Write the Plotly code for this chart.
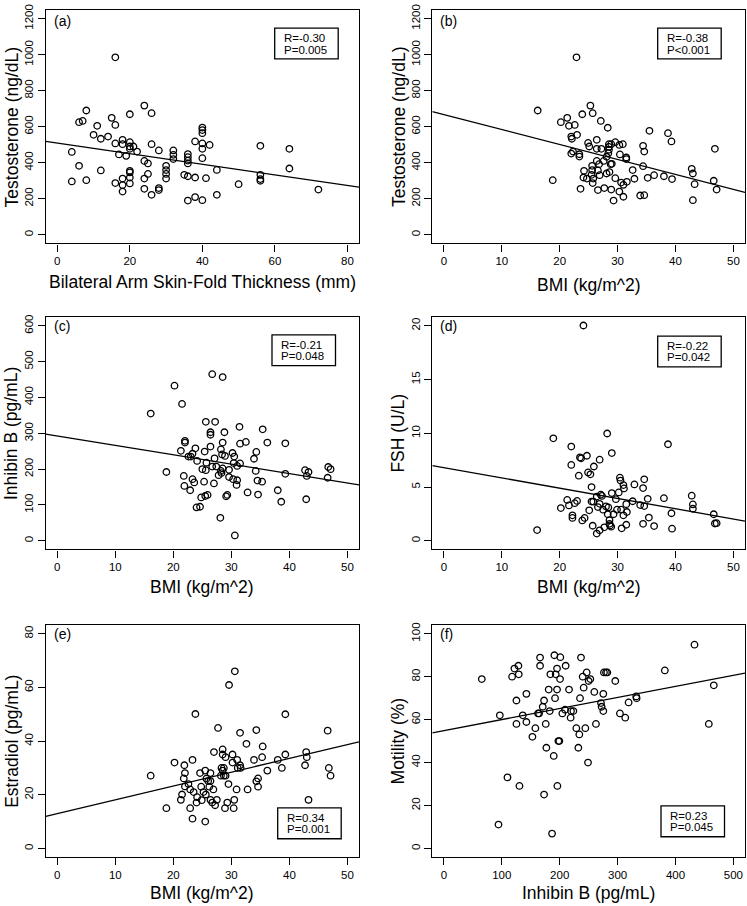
import plotly.graph_objects as go
import numpy as np

W, H = 747, 906
FONT = "Liberation Sans, Arial, Helvetica, sans-serif"

# ---------------- data ----------------
# (a) Testosterone vs bilateral arm skin-fold thickness
a_skinfold = [16, 24, 26, 20, 8, 6, 7, 15, 16, 11, 10, 12, 14, 16, 18, 18, 20, 20, 20, 21,
              22, 17, 19, 26, 28, 24, 25, 4, 6, 4, 8, 12, 16, 18, 18, 18, 20, 20, 20, 20,
              25, 24, 24, 26, 28, 28, 30, 30, 30, 30, 32, 32, 32, 36, 36, 36, 36, 35, 36, 36,
              38, 38, 38, 40, 40, 40, 40, 40, 40, 40, 42, 41, 44, 44, 50, 56, 56, 56, 56, 64,
              64, 72]
a_testosterone = [985, 717, 675, 669, 690, 625, 632, 649, 610, 605, 555, 533, 545, 507, 527, 503, 514, 490, 477, 490,
                  462, 446, 438, 503, 468, 410, 396, 460, 383, 296, 303, 357, 287, 312, 276, 240, 355, 346, 318, 285,
                  338, 312, 255, 222, 259, 248, 383, 359, 338, 312, 468, 444, 420, 448, 431, 412, 396, 333, 325, 190,
                  518, 318, 209, 595, 581, 564, 507, 477, 425, 192, 499, 314, 360, 222, 281, 494, 333, 309, 300, 477,
                  368, 251]

# (b) Testosterone vs BMI
b_bmi = [22.9, 25.3, 25.7, 23.9, 16.2, 27.1, 20.2, 21.3, 22.6, 21.6, 28.3, 23.0, 22.0, 22.1, 24.9, 25.1, 26.4, 26.4, 27.2, 22.0,
         22.3, 23.4, 23.4, 29.6, 28.5, 28.9, 30.3, 30.9, 28.5, 28.5, 28.4, 28.1, 30.4, 26.4, 26.8, 27.6, 28.8, 29.0, 31.5, 31.5,
         34.4, 34.6, 35.5, 38.7, 39.3, 46.8, 34.4, 32.6, 25.6, 24.2, 25.6, 26.6, 24.1, 24.7, 25.5, 25.8, 25.7, 26.9, 28.1, 28.6,
         29.6, 30.6, 31.0, 31.6, 30.3, 31.0, 32.9, 35.2, 36.3, 38.0, 39.4, 18.8, 23.6, 26.6, 27.7, 28.9, 29.3, 33.9, 34.6, 42.8,
         43.0, 43.3, 43.0, 46.6, 47.1]
b_testosterone = [985, 717, 675, 669, 690, 632, 625, 649, 610, 605, 594, 555, 545, 533, 510, 490, 527, 477, 477, 451,
                  462, 447, 434, 514, 503, 503, 499, 503, 488, 472, 453, 433, 446, 410, 392, 410, 392, 394, 429, 420,
                  494, 462, 577, 564, 518, 477, 381, 359, 383, 355, 359, 357, 318, 312, 333, 312, 287, 331, 340, 348,
                  314, 290, 277, 294, 240, 211, 311, 316, 331, 325, 309, 303, 255, 248, 259, 251, 190, 218, 220, 366,
                  340, 281, 192, 300, 251]

# (c) Inhibin B vs BMI
c_bmi = [16.1, 20.2, 21.5, 26.7, 28.5, 18.8, 21.3, 22.0, 22.0, 21.8, 21.9, 22.6, 23.0, 23.3, 23.8, 24.1, 22.9, 23.3, 23.6, 24.0,
         24.6, 24.8, 25.5, 25.9, 25.3, 25.0, 25.6, 25.4, 25.6, 27.2, 26.4, 26.4, 26.4, 25.7, 27.1, 26.7, 27.4, 27.8, 27.0, 28.2,
         28.4, 28.5, 28.8, 28.9, 28.2, 28.5, 28.3, 29.6, 29.1, 29.3, 28.1, 30.2, 30.5, 30.4, 29.6, 30.3, 31.0, 30.9, 31.0, 31.5,
         31.4, 31.5, 32.5, 30.6, 32.8, 33.9, 34.3, 34.2, 34.5, 34.6, 35.3, 35.4, 36.2, 38.0, 38.6, 39.3, 39.3, 42.7, 43.0, 43.3,
         42.9, 46.7, 47.1, 46.6]
c_inhibin = [355, 433, 382, 465, 457, 192, 251, 279, 274, 181, 153, 235, 235, 243, 258, 223, 141, 172, 163, 93,
             95, 121, 125, 128, 165, 200, 197, 249, 332, 332, 303, 296, 263, 218, 230, 207, 207, 183, 160, 255,
             241, 274, 303, 237, 195, 202, 189, 198, 124, 128, 64, 245, 235, 217, 178, 172, 169, 156, 209, 216,
             318, 271, 276, 15, 135, 229, 248, 195, 168, 129, 165, 311, 274, 141, 109, 272, 187, 197, 181, 192,
             116, 206, 200, 176]

# (d) FSH vs BMI
d_bmi = [24.1, 16.1, 18.9, 20.2, 21.3, 21.6, 22.0, 22.0, 22.2, 22.2, 22.6, 23.0, 23.3, 23.5, 23.7, 24.7, 23.9, 24.3, 24.9, 25.3,
         25.9, 25.1, 25.5, 25.8, 25.5, 25.7, 26.4, 26.6, 26.9, 27.1, 27.3, 26.9, 26.4, 26.9, 27.7, 28.2, 28.0, 28.4, 28.3, 28.6,
         28.6, 28.7, 28.9, 29.0, 29.0, 29.3, 29.7, 29.9, 27.5, 30.2, 30.4, 30.5, 30.6, 30.7, 31.0, 31.1, 31.0, 31.5, 31.6, 31.5,
         32.6, 32.9, 33.9, 34.4, 34.6, 34.6, 34.4, 35.2, 35.4, 36.3, 38.0, 38.7, 39.3, 39.4, 42.8, 43.0, 43.0, 46.6, 46.8, 47.1]
d_fsh = [20.03, 1.0, 9.53, 3.04, 3.8, 3.29, 8.77, 7.06, 2.37, 2.13, 3.5, 3.71, 6.06, 7.76, 7.67, 7.91, 1.89, 2.13, 6.36, 6.18,
         6.91, 2.83, 3.65, 3.65, 5.0, 1.40, 4.11, 3.14, 7.55, 4.29, 4.17, 3.44, 0.67, 0.97, 1.25, 9.98, 3.2, 3.1, 2.47, 1.92,
         1.58, 1.43, 1.31, 4.44, 8.16, 2.47, 3.87, 2.89, 2.89, 4.5, 5.87, 5.6, 2.89, 1.16, 5.18, 4.87, 2.37, 3.41, 2.68, 1.49,
         3.68, 5.24, 3.32, 4.90, 5.72, 3.23, 1.58, 3.9, 2.16, 1.37, 3.96, 8.98, 2.56, 1.13, 4.2, 3.38, 2.98, 2.47, 1.61, 1.64]

# (e) Estradiol vs BMI
e_bmi = [16.1, 18.8, 20.2, 21.5, 21.3, 21.9, 22.0, 21.8, 22.0, 22.6, 22.9, 22.9, 23.3, 23.3, 23.5, 23.8, 24.1, 24.0, 24.6, 24.8,
         24.9, 25.2, 25.5, 25.6, 25.7, 26.0, 25.5, 26.4, 26.4, 26.2, 26.4, 26.7, 26.9, 27.2, 27.0, 27.5, 27.7, 28.5, 28.5, 28.3,
         28.5, 28.7, 28.2, 28.7, 29.0, 29.0, 28.9, 29.3, 29.6, 29.5, 30.2, 30.2, 30.5, 30.4, 30.6, 31.0, 31.1, 30.9, 31.5, 31.5,
         31.6, 32.6, 32.8, 33.9, 34.3, 34.3, 34.6, 34.6, 35.3, 35.4, 36.2, 38.0, 38.7, 39.3, 39.3, 42.7, 42.9, 43.0, 43.3, 46.6,
         46.8, 47.1]
e_estradiol = [27.1, 15.0, 32.0, 20.1, 18.1, 31.0, 28.1, 26.1, 23.1, 24.0, 22.0, 15.0, 33.0, 11.1, 21.0, 50.1, 19.1, 17.1, 28.1, 23.0,
               18.0, 21.0, 29.0, 20.1, 26.0, 25.1, 10.0, 28.1, 25.1, 23.0, 18.1, 17.1, 22.0, 16.1, 35.9, 18.1, 44.9, 36.9, 35.0, 30.0,
               29.0, 30.0, 27.1, 27.1, 34.0, 27.1, 15.0, 17.1, 60.9, 24.0, 35.0, 32.0, 18.1, 15.0, 66.0, 33.0, 30.0, 22.0, 43.1, 31.0,
               30.0, 39.0, 22.0, 33.0, 44.1, 25.0, 26.1, 23.0, 34.0, 38.0, 29.0, 33.0, 30.0, 35.0, 50.0, 31.0, 35.9, 34.0, 18.1, 43.9,
               30.0, 27.1]

# (f) Motility vs Inhibin B
f_inhibin = [65.5, 94.3, 96.6, 109.8, 117.8, 121.8, 128.7, 129.3, 125.3, 125.3, 130.5, 136.2, 142.5, 142.5, 152.9, 158.0, 162.6, 164.4, 166.1, 166.1,
             170.7, 173.0, 173.0, 175.9, 177.0, 181.0, 182.8, 183.9, 189.7, 186.8, 190.8, 192.0, 193.1, 195.4, 195.4, 196.0, 197.7, 199.4, 200.6, 201.1,
             204.6, 209.2, 210.3, 216.1, 218.9, 219.5, 223.6, 228.7, 232.2, 233.9, 235.1, 236.8, 239.7, 241.4, 244.3, 246.6, 248.9, 250.0, 252.9, 259.8,
             262.6, 271.3, 272.4, 275.3, 275.3, 276.4, 279.9, 282.2, 296.0, 304.0, 313.2, 319.0, 332.2, 332.8, 381.6, 432.8, 457.5, 466.1]
f_motility = [78.9, 11.1, 62.0, 33.1, 80.0, 83.8, 85.1, 81.1, 68.9, 58.0, 29.1, 62.0, 72.0, 58.9, 52.0, 56.0, 62.9, 62.9, 88.9, 85.1,
              66.0, 68.9, 25.1, 58.0, 46.9, 74.0, 64.0, 81.1, 43.1, 6.9, 90.0, 70.0, 81.1, 83.8, 74.0, 29.1, 50.0, 50.0, 78.9, 89.1,
              62.9, 64.6, 85.1, 74.0, 60.9, 64.0, 64.0, 56.0, 46.9, 53.1, 70.0, 88.9, 80.0, 74.9, 56.0, 82.0, 40.0, 78.0, 78.9, 72.9,
              58.0, 67.7, 66.0, 72.0, 64.0, 82.0, 82.0, 82.0, 78.0, 62.9, 60.9, 68.0, 70.8, 70.0, 82.9, 94.9, 58.0, 76.0]

# fitted regression lines (intercept, slope)
fit_intercept = [508.6, 667.4, 292.5, 6.81, 12.97, 54.88]
fit_slope = [-2.94, -8.31, -2.62, -0.0957, 0.515, 0.0516]

panel_labels = ["(a)", "(b)", "(c)", "(d)", "(e)", "(f)"]
stat_R = ["R=-0.30", "R=-0.38", "R=-0.21", "R=-0.22", "R=0.34", "R=0.23"]
stat_P = ["P=0.005", "P<0.001", "P=0.048", "P=0.042", "P=0.001", "P=0.045"]

x_titles = ["Bilateral Arm Skin-Fold Thickness (mm)", "BMI (kg/m^2)", "BMI (kg/m^2)",
            "BMI (kg/m^2)", "BMI (kg/m^2)", "Inhibin B (pg/mL)"]
y_titles = ["Testosterone (ng/dL)", "Testosterone (ng/dL)", "Inhibin B (pg/mL)",
            "FSH (U/L)", "Estradiol (pg/mL)", "Motility (%)"]

x_ticks = [[0, 20, 40, 60, 80], [0, 10, 20, 30, 40, 50], [0, 10, 20, 30, 40, 50],
           [0, 10, 20, 30, 40, 50], [0, 10, 20, 30, 40, 50], [0, 100, 200, 300, 400, 500]]
y_ticks = [[0, 200, 400, 600, 800, 1000, 1200], [0, 200, 400, 600, 800, 1000, 1200],
           [0, 100, 200, 300, 400, 500, 600], [0, 5, 10, 15, 20],
           [0, 20, 40, 60, 80], [0, 20, 40, 60, 80, 100]]

xs_data = [a_skinfold, b_bmi, c_bmi, d_bmi, e_bmi, f_inhibin]
ys_data = [a_testosterone, b_testosterone, c_inhibin, d_fsh, e_estradiol, f_motility]

# ---------------- layout helpers ----------------
def ext(lo, hi):
    d = (hi - lo) * 0.04
    return [lo - d, hi + d]

col_px = [(45.7, 359.0), (432.3, 745.0)]
row_px = [(4.0, 239.0), (313.3, 547.0), (623.3, 856.7)]
stat_box_px = [(274.7, 22.3), (657.7, 22.3), (272.0, 331.0), (657.7, 332.3), (277.7, 807.3), (661.0, 805.3)]
xtitle_y_px = [278, 281, 585, 585, 893, 893]

def pxx(x):
    return x / W

def pxy(y):
    return 1 - y / H

fig = go.Figure()
layout = dict(
    width=W, height=H, margin=dict(l=0, r=0, t=0, b=0),
    paper_bgcolor="white", plot_bgcolor="white", showlegend=False,
    font=dict(family=FONT, color="black"),
)
annotations = []
shapes = []

for i in range(6):
    r, c = divmod(i, 2)
    xa = "xaxis" if i == 0 else f"xaxis{i+1}"
    ya = "yaxis" if i == 0 else f"yaxis{i+1}"
    xr = "x" if i == 0 else f"x{i+1}"
    yr = "y" if i == 0 else f"y{i+1}"
    xlo, xhi = col_px[c]
    ytop, ybot = row_px[r]
    xrange = ext(x_ticks[i][0], x_ticks[i][-1])
    yrange = ext(y_ticks[i][0], y_ticks[i][-1])

    fig.add_trace(go.Scatter(
        x=xs_data[i], y=ys_data[i], mode="markers", xaxis=xr, yaxis=yr,
        marker=dict(symbol="circle-open", size=6.5, color="black", line=dict(width=1.3, color="black")),
        hoverinfo="skip"))
    lx = np.array(xrange)
    fig.add_trace(go.Scatter(
        x=lx, y=fit_intercept[i] + fit_slope[i] * lx, mode="lines", xaxis=xr, yaxis=yr,
        line=dict(color="black", width=1.3), hoverinfo="skip"))

    common = dict(showgrid=False, zeroline=False, showline=True, linecolor="black", linewidth=1.3,
                  mirror=True, ticks="outside", ticklen=7, tickwidth=1.2, tickcolor="black",
                  tickfont=dict(size=11.5, family=FONT, color="black"))
    layout[xa] = dict(common, domain=[pxx(xlo), pxx(xhi)], range=xrange, tickvals=x_ticks[i],
                      anchor=yr)
    layout[ya] = dict(common, domain=[pxy(ybot), pxy(ytop)], range=yrange, tickvals=y_ticks[i],
                      tickangle=-90, anchor=xr)

    # axis titles
    annotations.append(dict(text=x_titles[i], xref="paper", yref="paper",
                            x=pxx((xlo + xhi) / 2), y=pxy(xtitle_y_px[i]), xanchor="center", yanchor="middle",
                            showarrow=False, font=dict(size=17.5, family=FONT, color="black")))
    annotations.append(dict(text=y_titles[i], xref="paper", yref="paper",
                            x=pxx(xlo - 34), y=pxy((ytop + ybot) / 2), xanchor="center", yanchor="middle",
                            textangle=-90, showarrow=False, font=dict(size=17.5, family=FONT, color="black")))
    # panel label
    annotations.append(dict(text=panel_labels[i], xref="paper", yref="paper",
                            x=pxx(xlo + 6), y=pxy(ytop + 9 if r else ytop + 11), xanchor="left", yanchor="middle",
                            showarrow=False, font=dict(size=14, family=FONT, color="black")))
    # stats box
    bx, by = stat_box_px[i]
    shapes.append(dict(type="rect", xref="paper", yref="paper",
                       x0=pxx(bx), x1=pxx(bx + 63.5), y0=pxy(by + 31), y1=pxy(by),
                       line=dict(color="black", width=1.3), fillcolor="white"))
    annotations.append(dict(text=stat_R[i], xref="paper", yref="paper",
                            x=pxx(bx + 7), y=pxy(by + 10), xanchor="left", yanchor="middle",
                            showarrow=False, font=dict(size=11.5, family=FONT, color="black")))
    annotations.append(dict(text=stat_P[i], xref="paper", yref="paper",
                            x=pxx(bx + 7), y=pxy(by + 21.5), xanchor="left", yanchor="middle",
                            showarrow=False, font=dict(size=11.5, family=FONT, color="black")))

layout["annotations"] = annotations
layout["shapes"] = shapes
fig.update_layout(**layout)
fig.write_html("out.html", config={"displayModeBar": False},
               post_script="document.body.style.margin='0';document.body.style.overflow='hidden';")
